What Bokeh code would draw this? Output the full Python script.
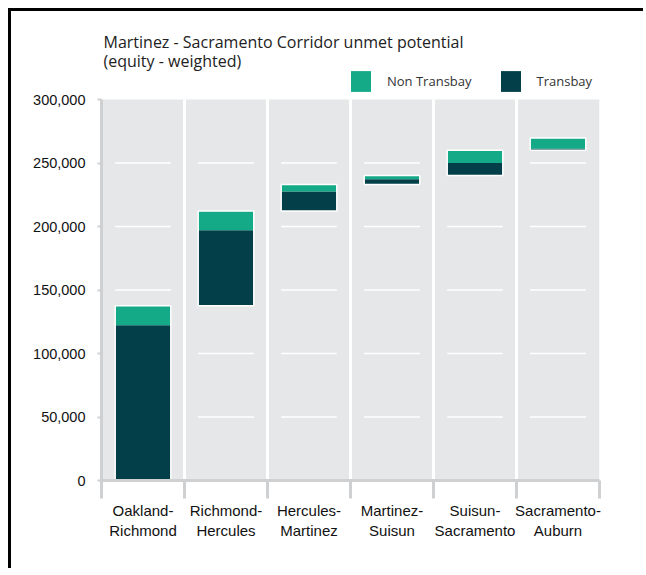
import numpy as np
from bokeh.plotting import figure
from bokeh.models import (Range1d, LinearAxis, FixedTicker, Label,
                          NumeralTickFormatter, Legend, LegendItem)
from bokeh.embed import file_html
from bokeh.resources import INLINE

# ---- data ----
categories = ["Oakland-Richmond", "Richmond-Hercules", "Hercules-Martinez",
              "Martinez-Suisun", "Suisun-Sacramento", "Sacramento-Auburn"]
tick_labels = ["Oakland-\nRichmond", "Richmond-\nHercules", "Hercules-\nMartinez",
               "Martinez-\nSuisun", "Suisun-\nSacramento", "Sacramento-\nAuburn"]
transbay = [122300, 59400, 15200, 4300, 9800, 1300]
non_transbay = [15300, 15300, 5500, 2900, 10000, 8400]
y_ticks = [0, 50000, 100000, 150000, 200000, 250000, 300000]
title_lines = ["Martinez - Sacramento Corridor unmet potential", "(equity - weighted)"]

GREEN = "#14a987"
DARK = "#023f49"
BG = "#e6e7e8"
AXIS = "#cfd0d1"

# layout (pixels inside the canvas)
W, H = 635, 560
FRAME_LEFT, FRAME_RIGHT = 90, 588
FRAME_TOP, AXIS_TOP, FRAME_BOTTOM = 13, 88, 469   # frame top, 300k line, 0 line
y_max = y_ticks[-1]
y_top = y_max * (FRAME_BOTTOM - FRAME_TOP) / (FRAME_BOTTOM - AXIS_TOP)

def px_to_val(py):
    return (FRAME_BOTTOM - py) / (FRAME_BOTTOM - AXIS_TOP) * y_max

ncat = len(categories)
xc = np.arange(ncat) + 0.5          # category centres
t = np.array(transbay, dtype=float)
n = np.array(non_transbay, dtype=float)
totals = t + n
start = np.concatenate([[0.0], np.cumsum(totals)[:-1]])
mid = start + t
end = mid + n

p = figure(width=W, height=H, x_range=Range1d(0, ncat),
           y_range=Range1d(y_ticks[0], y_top),
           output_backend="svg", toolbar_location=None, x_axis_location=None,
           min_border_left=FRAME_LEFT, min_border_right=W - FRAME_RIGHT,
           min_border_top=FRAME_TOP, min_border_bottom=H - FRAME_BOTTOM,
           background_fill_color="white", border_fill_color="white", outline_line_color=None)
p.styles = {"margin-left": "8px", "margin-top": "8px",
            "border-left": "3px solid black", "border-top": "3px solid black"}

p.xgrid.grid_line_color = None
p.ygrid.grid_line_color = None

# grey column backgrounds
p.vbar(x=xc, width=1.0, bottom=y_ticks[0], top=y_max, fill_color=BG, line_color=None)

# white separators between category columns
seps = list(range(1, ncat))
p.segment(x0=seps, y0=y_ticks[0], x1=seps, y1=y_max, line_color="white", line_width=3)

# short white gridlines within each column
half = 0.335
gx0, gx1, gy = [], [], []
for c in xc:
    for v in y_ticks[1:-1]:
        gx0.append(c - half)
        gx1.append(c + half)
        gy.append(v)
p.segment(x0=gx0, y0=gy, x1=gx1, y1=gy, line_color="white", line_width=1.5)

r_t = p.vbar(x=xc, bottom=start, top=mid, width=0.67, fill_color=DARK, line_color=None)
r_n = p.vbar(x=xc, bottom=mid, top=end, width=0.67, fill_color=GREEN, line_color=None)
p.vbar(x=xc, bottom=start, top=end, width=0.67, fill_color=None, line_color="white", line_width=1.5)

# y axis
ya = p.yaxis[0]
ya.bounds = (y_ticks[0], y_max)
ya.ticker = FixedTicker(ticks=y_ticks)
ya.formatter = NumeralTickFormatter(format="0,0")
ya.major_tick_in = 0
ya.major_tick_out = 4
ya.major_tick_line_color = AXIS
ya.major_tick_line_width = 2
ya.minor_tick_line_color = None
ya.axis_line_color = AXIS
ya.axis_line_width = 3
ya.major_label_standoff = 12
ya.major_label_text_font = "Liberation Sans"
ya.major_label_text_font_size = "14.5px"
ya.major_label_text_color = "#111111"

# x axes: separator ticks + labels
sep_ticks = list(range(ncat + 1))
sep_axis = LinearAxis(ticker=FixedTicker(ticks=sep_ticks),
                      major_label_overrides={s: "" for s in sep_ticks},
                      major_label_standoff=0, major_label_text_font_size="2px",
                      major_tick_in=0, major_tick_out=18, major_tick_line_color=AXIS,
                      major_tick_line_width=3, minor_tick_line_color=None,
                      axis_line_color=AXIS, axis_line_width=3)
lab_axis = LinearAxis(ticker=FixedTicker(ticks=list(xc)),
                      major_label_overrides={float(c): lab for c, lab in zip(xc, tick_labels)},
                      major_tick_line_color=None, minor_tick_line_color=None,
                      axis_line_color=None,
                      major_label_standoff=-3, major_label_text_font="Liberation Sans",
                      major_label_text_font_size="15px", major_label_text_color="#111111")
p.add_layout(sep_axis, "below")
p.add_layout(lab_axis, "below")

legend = Legend(items=[LegendItem(label="Non Transbay", renderers=[r_n]),
                       LegendItem(label="Transbay", renderers=[r_t])],
                orientation="horizontal", location=(247, 386),
                glyph_width=25, glyph_height=26, label_standoff=14, spacing=26,
                padding=7, margin=0, border_line_color=None, background_fill_alpha=0,
                label_text_font="Open Sans", label_text_font_size="13px",
                label_text_color="#333333")
p.add_layout(legend, "center")

# title (two lines, inside the tall frame, above the columns)
for txt, py in zip(title_lines, [30, 49]):
    p.add_layout(Label(x=0, y=px_to_val(py), x_offset=2, text=txt,
                       text_align="left", text_baseline="middle",
                       text_font="Open Sans", text_font_size="16px",
                       text_color="#222222"))

open("out.html", "w").write(file_html(p, INLINE))
